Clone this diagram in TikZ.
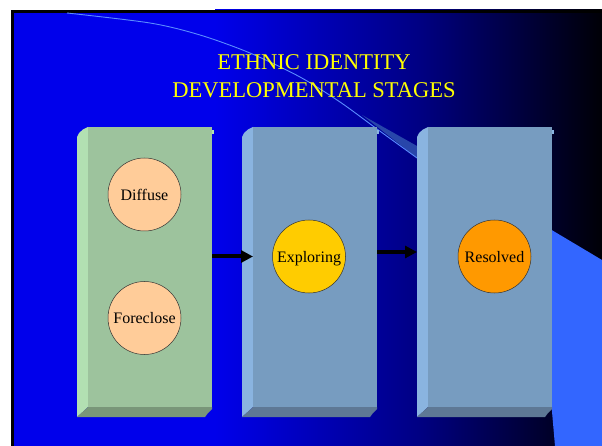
\documentclass[tikz,border=0pt]{standalone}
\usepackage{fontspec}
\setmainfont{Liberation Serif}
\usetikzlibrary{arrows.meta}
\definecolor{bgblue}{RGB}{0,0,235}
\definecolor{bgmid}{RGB}{0,0,130}
\definecolor{bgdark}{RGB}{0,0,6}
\definecolor{sideblue}{RGB}{51,102,255}
\definecolor{arcblue}{RGB}{90,140,255}
\definecolor{wedgeblue}{RGB}{40,70,170}
\definecolor{gfront}{RGB}{157,195,157}
\definecolor{gside}{RGB}{178,224,178}
\definecolor{gbottom}{RGB}{121,150,121}
\definecolor{bfront}{RGB}{119,156,192}
\definecolor{bside}{RGB}{138,180,224}
\definecolor{bbottom}{RGB}{94,120,149}
\definecolor{peach}{RGB}{255,204,153}
\definecolor{gold}{RGB}{255,204,0}
\definecolor{orng}{RGB}{255,153,0}
\definecolor{titley}{RGB}{255,255,0}
\newcommand{\stagebox}[5]{%
  \begin{scope}[shift={(#2,0)}]
    \fill[#4] (0,137) -- (2,133) -- (6,129.5) -- (11,127) -- (11,407) -- (0,417) -- cycle;
    \fill[#4] (135,130) rectangle (136.5,134);
    \fill[#5] (0,417) -- (11,407) -- (135,407) -- (135,409) -- (131,413) -- (128,417) -- cycle;
    \node[fill=#3, inner sep=0pt, minimum width=124pt, minimum height=280pt, anchor=north west] (#1) at (11,127) {};
  \end{scope}}
\begin{document}
\begin{tikzpicture}[x=1pt,y=-1pt,
  titletext/.style={text=titley, font=\fontsize{22.5}{27}\selectfont, inner sep=0pt, anchor=base},
  stage/.style={circle, draw=black!80, line width=0.5pt, minimum size=73pt, inner sep=0pt,
    font=\fontsize{16}{18}\selectfont, text height=11.5pt, text depth=0pt},
  flow/.style={line width=4pt, -{Triangle[length=12pt,width=12pt]}}]
\useasboundingbox (0,0) rectangle (602,446);
\fill[white] (0,0) rectangle (602,446);
% background
\fill[bgblue] (12,10) rectangle (216,446);
\shade[left color=bgblue, right color=bgmid] (215,10) rectangle (421,446);
\shade[left color=bgmid, right color=bgdark] (420,10) rectangle (602,446);
\fill[black] (11,10) rectangle (14,446);
\fill[black] (11,10) rectangle (602,13);
% decorative arc and wedge
\fill[wedgeblue] (362,115) -- (417,146) -- (417,158) -- cycle;
\draw[arcblue, line width=0.9pt] plot[smooth] coordinates {(67,13) (150,23) (200,35) (250,53) (300,77) (340,102) (377,129) (417,158)};
% right light-blue shape
\fill[sideblue] (550,229) -- (602,260) -- (602,446) -- (555,446) -- (551,400) -- cycle;
% boxes
\stagebox{box1}{77}{gfront}{gside}{gbottom}
\stagebox{box2}{242}{bfront}{bside}{bbottom}
\stagebox{box3}{417}{bfront}{bside}{bbottom}
% title
\node[titletext] (t1) at (314,70) {ETHNIC IDENTITY};
\node[titletext] (t2) at (314,98) {DEVELOPMENTAL STAGES};
% stages
\node[stage, fill=peach] (diffuse) at (144.5,194.5) {Diffuse};
\node[stage, fill=peach] (foreclose) at (144.5,318) {Foreclose};
\node[stage, fill=gold] (exploring) at (309,256.5) {Exploring};
\node[stage, fill=orng] (resolved) at (494.5,256.5) {Resolved};
% arrows
\coordinate (a2e) at ([xshift=-11pt]box3.west |- 0,252);
\draw[flow] (box1.east |- exploring.center) -- (box2.west |- exploring.center);
\draw[flow] (box2.east |- a2e) -- (a2e);
\end{tikzpicture}
\end{document}
